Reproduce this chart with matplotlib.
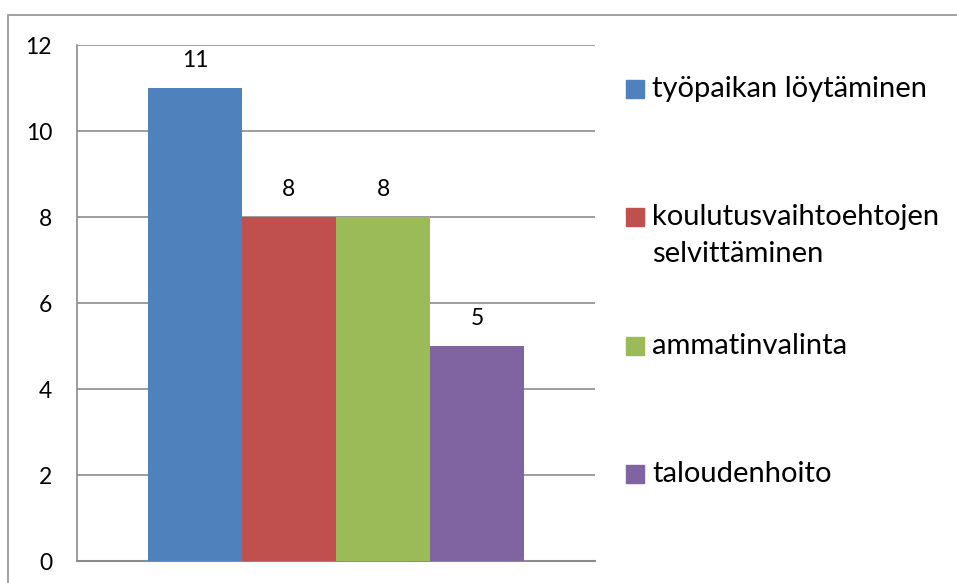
import matplotlib
matplotlib.use("Agg")
import matplotlib.pyplot as plt
from matplotlib.patches import Rectangle

# data
categories = ["työpaikan löytäminen", "koulutusvaihtoehtojen\nselvittäminen",
              "ammatinvalinta", "taloudenhoito"]
values = [11, 8, 8, 5]
colors = ["#4F81BD", "#C0504D", "#9BBB59", "#8064A2"]
yticks = [0, 2, 4, 6, 8, 10, 12]

plt.rcParams["font.family"] = ["Lato", "DejaVu Sans"]

W, H = 957, 583
fig = plt.figure(figsize=(W / 100, H / 100), dpi=100)
ax = fig.add_axes([77 / W, 1 - 561 / H, (595 - 77) / W, (561 - 45) / H])

xs = list(range(len(values)))
ax.bar(xs, values, width=1.0, color=colors, zorder=3)
for x, v in zip(xs, values):
    ax.annotate(str(v), (x, v), xytext=(0, 12), textcoords="offset points",
                ha="center", va="bottom", fontsize=16.5, color="black")

ax.set_xlim(-1.255, 4.255)
ax.set_ylim(0, 12)
ax.set_yticks(yticks)
ax.set_xticks([])
ax.tick_params(axis="y", length=0, pad=18, labelsize=16.5)
ax.yaxis.grid(True, color="#8C8C8C", linewidth=1.2, zorder=0)
for s in ["top", "right"]:
    ax.spines[s].set_visible(False)
ax.spines["left"].set_color("#8C8C8C")
ax.spines["bottom"].set_color("#8C8C8C")
ax.spines["left"].set_linewidth(1.2)
ax.spines["bottom"].set_linewidth(1.5)

# outer chart border
fig.add_artist(Rectangle((8 / W, -0.1), 1.2, 1 - 15 / H + 0.1, transform=fig.transFigure,
                         fill=False, edgecolor="#9A9A9A", linewidth=1.3))

# legend drawn by hand
legend_y = [89, 217, 346, 474]
for name, c, yy in zip(categories, colors, legend_y):
    fig.add_artist(Rectangle((626 / W, 1 - (yy + 9) / H), 18 / W, 18 / H,
                             transform=fig.transFigure, color=c))
    for i, line in enumerate(name.split("\n")):
        fig.text(652 / W, 1 - (yy + i * 37) / H, line, ha="left", va="center",
                 fontsize=21)

fig.savefig("out.png", dpi=100)
